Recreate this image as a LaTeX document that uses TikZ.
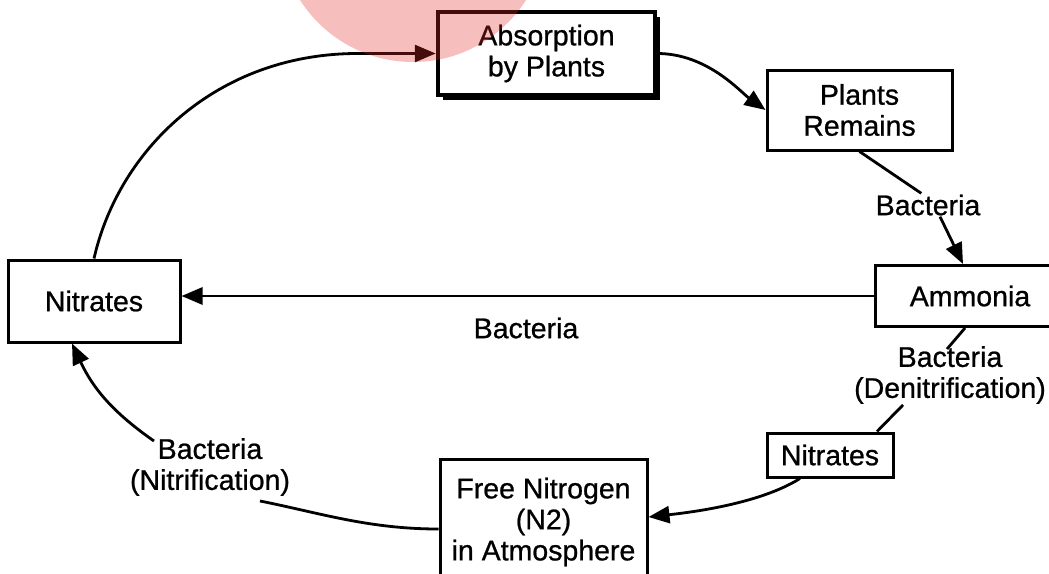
\documentclass[tikz,border=0pt]{standalone}
\usepackage{fontspec}
\setmainfont{Liberation Sans}[UprightFeatures={FakeBold=0.8}]
\usetikzlibrary{arrows.meta,calc,shadows}
\definecolor{wmark}{RGB}{230,40,40}
\tikzset{
  box/.style={draw,line width=3pt,fill=white,align=center,inner sep=0pt},
  lbl/.style={align=center,inner sep=1pt},
  flow/.style={line width=2.8pt,-{Triangle[length=21pt,width=17pt]}},
  link/.style={line width=2.8pt}
}

\begin{document}
\begin{tikzpicture}[x=1pt,y=1pt,font=\fontsize{28.5}{31}\selectfont]
\useasboundingbox (0,0) rectangle (1049,-573);

%boxes of the cycle
\node[box,line width=4.5pt,drop shadow={shadow xshift=5pt,shadow yshift=-4.5pt,fill=black,opacity=1},minimum width=217pt,minimum height=83pt] (Abs) at (546.5,-53.5) {Absorption\\by Plants};
\node[box,minimum width=185pt,minimum height=80pt] (Rem) at (859.5,-110) {Plants\\Remains};
\node[box,minimum width=190pt,minimum height=61pt] (Amm) at (970,-296) {Ammonia};
\node[box,minimum width=172pt,minimum height=82pt] (NitL) at (94,-301) {Nitrates};
\node[box,minimum width=207pt,minimum height=125pt,anchor=north] (Free) at (543.5,-458) {Free Nitrogen\\(N2)\\in Atmosphere};
\node[box,minimum width=126pt,minimum height=44pt] (NitS) at (830,-455) {Nitrates};

%bacteria labels
\node[lbl] (BacR) at (928,-205) {Bacteria};
\node[lbl] (BacH) at (526,-328) {Bacteria};
\node[lbl] (BacD) at (950,-375) {Bacteria\\(Denitrification)};
\node[lbl] (BacN) at (210,-467) {Bacteria\\(Nitrification)};

%connectors
\draw[flow] (NitL.north) .. controls +(25,110) and +(-140,0) .. ($(Abs.west)+(-78,0)$) -- (Abs.west);
\draw[flow] (Abs.east) .. controls +(50,0) and +(-25,18) .. (Rem.west);
\draw[link] (Rem.south) -- (BacR.120);
\draw[flow] ($(BacR.south)+(12,0)$) -- ($(Amm.north)+(-7,0)$);
\draw[flow] (Amm.west) -- (Amm.west -| NitL.east);
\draw[link] ($(Amm.south)+(-5,0)$) -- ($(BacD.north)+(-3,-4)$);
\draw[link] ($(BacD.south)+(-47,0)$) -- ($(NitS.north)+(47,0)$);
\draw[flow] ($(NitS.south)+(-30,0)$) .. controls +(-40,-25) and +(45,5) .. ($(Free.east)+(0,5)$);
\draw[link] ($(Free.west)+(0,-7)$) .. controls +(-70,0) and +(60,-12) .. ($(BacN.south)+(50,-4)$);
\draw[flow] ($(BacN.north)+(-56,-4)$) to[bend left=15] ($(NitL.south)+(-22,0)$);

%pink mark
\fill[wmark,opacity=0.3] (413,72) circle[radius=134];
\end{tikzpicture}
\end{document}
